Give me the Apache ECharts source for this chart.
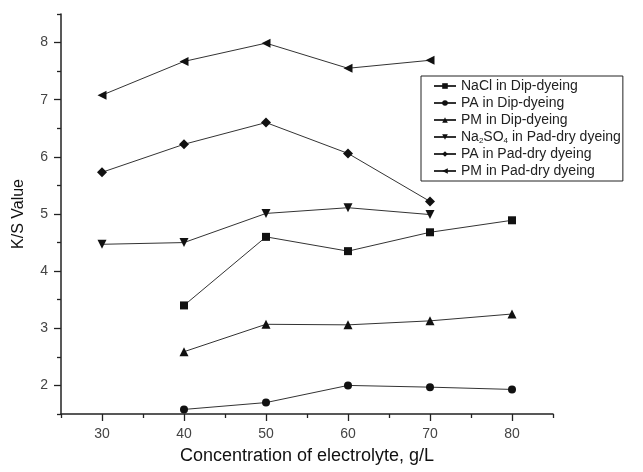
<!DOCTYPE html>
<html>
<head>
<meta charset="utf-8">
<script src="https://cdn.jsdelivr.net/npm/echarts@6/dist/echarts.min.js"></script>
<style>
html,body{margin:0;padding:0;background:#fff;}
#chart{width:643px;height:472px;}
</style>
</head>
<body>
<div id="chart"></div>
<script>
const xValues = [30, 40, 50, 60, 70, 80];
const naclDip = [null, 3.40, 4.60, 4.35, 4.68, 4.89];
const paDip = [null, 1.58, 1.70, 2.00, 1.97, 1.93];
const pmDip = [null, 2.59, 3.07, 3.06, 3.13, 3.25];
const na2so4Pad = [4.47, 4.50, 5.01, 5.11, 4.99, null];
const paPad = [5.73, 6.22, 6.60, 6.06, 5.22, null];
const pmPad = [7.08, 7.67, 7.99, 7.55, 7.69, null];

const xMajorTicks = [30, 40, 50, 60, 70, 80];
const xMinorTicks = [25, 35, 45, 55, 65, 75, 85];
const yMajorTicks = [2, 3, 4, 5, 6, 7, 8];
const yMinorTicks = [1.5, 2.5, 3.5, 4.5, 5.5, 6.5, 7.5, 8.5];

const seriesNames = [
  'NaCl in Dip-dyeing',
  'PA in Dip-dyeing',
  'PM in Dip-dyeing',
  'Na2SO4 in Pad-dry dyeing',
  'PA in Pad-dry dyeing',
  'PM in Pad-dry dyeing'
];
const seriesValues = [naclDip, paDip, pmDip, na2so4Pad, paPad, pmPad];
const symbols = ['rect', 'circle', 'triangle', 'triangle', 'diamond', 'triangle'];
const rotations = [0, 0, 0, 180, 0, 90];
const sizes = [8, 8, 9, 9, 10, 9];

function pairs(vals) {
  const out = [];
  vals.forEach((v, i) => { if (v !== null) out.push([xValues[i], v]); });
  return out;
}

const font = 'Liberation Sans, Arial, sans-serif';
const axisColor = '#222';

function xAxisDef(major) {
  return {
    type: 'value', min: 25, max: 85, interval: 5,
    position: 'bottom',
    name: major ? 'Concentration of electrolyte, g/L' : '',
    nameLocation: 'middle', nameGap: 33,
    nameTextStyle: {fontFamily: font, fontSize: 18, color: '#111'},
    axisLine: {show: major, onZero: false, lineStyle: {color: axisColor, width: 1.5}},
    axisTick: {
      show: true, inside: false, length: major ? 7 : 4,
      customValues: major ? xMajorTicks : xMinorTicks,
      lineStyle: {color: axisColor, width: 1.3}
    },
    axisLabel: {
      show: major, margin: 13, fontFamily: font, fontSize: 14, color: '#444',
      customValues: xMajorTicks
    },
    splitLine: {show: false}
  };
}
function yAxisDef(major) {
  return {
    type: 'value', min: 1.5, max: 8.5, interval: 0.5,
    position: 'left',
    name: major ? 'K/S Value' : '',
    nameLocation: 'middle', nameGap: 34,
    nameTextStyle: {fontFamily: font, fontSize: 16, color: '#111'},
    axisLine: {show: major, onZero: false, lineStyle: {color: axisColor, width: 1.5}},
    axisTick: {
      show: true, inside: false, length: major ? 7 : 4,
      customValues: major ? yMajorTicks : yMinorTicks,
      lineStyle: {color: axisColor, width: 1.3}
    },
    axisLabel: {
      show: major, margin: 13, fontFamily: font, fontSize: 14, color: '#444',
      customValues: yMajorTicks
    },
    splitLine: {show: false}
  };
}

const chart = echarts.init(document.getElementById('chart'), null, {renderer: 'canvas'});
chart.setOption({
  animation: false,
  backgroundColor: '#fff',
  grid: {left: 61, right: 90, top: 14, bottom: 58, containLabel: false},
  xAxis: [xAxisDef(true), xAxisDef(false)],
  yAxis: [yAxisDef(true), yAxisDef(false)],
  legend: {
    orient: 'vertical',
    left: 421, top: 76,
    padding: [2, 2, 2, 12],
    itemGap: 1,
    itemWidth: 22, itemHeight: 7,
    borderColor: '#222', borderWidth: 1,
    data: seriesNames,
    textStyle: {
      fontFamily: font, fontSize: 14, color: '#222', lineHeight: 16,
      rich: {
        n: {fontFamily: font, fontSize: 14, color: '#222', lineHeight: 16},
        sub: {fontFamily: font, fontSize: 8, color: '#222', lineHeight: 16, verticalAlign: 'bottom', padding: [6, 0, 0, 0]}
      }
    },
    formatter: name => name === 'Na2SO4 in Pad-dry dyeing'
      ? '{n|Na}{sub|2}{n|SO}{sub|4}{n| in Pad-dry dyeing}'
      : name
  },
  series: seriesNames.map((name, i) => ({
    name: name,
    type: 'line',
    xAxisIndex: 0,
    yAxisIndex: 0,
    data: pairs(seriesValues[i]),
    symbol: symbols[i],
    symbolRotate: rotations[i],
    symbolSize: sizes[i],
    showAllSymbol: true,
    lineStyle: {color: '#333', width: 1},
    itemStyle: {color: '#111', borderWidth: 0}
  }))
});
</script>
</body>
</html>
